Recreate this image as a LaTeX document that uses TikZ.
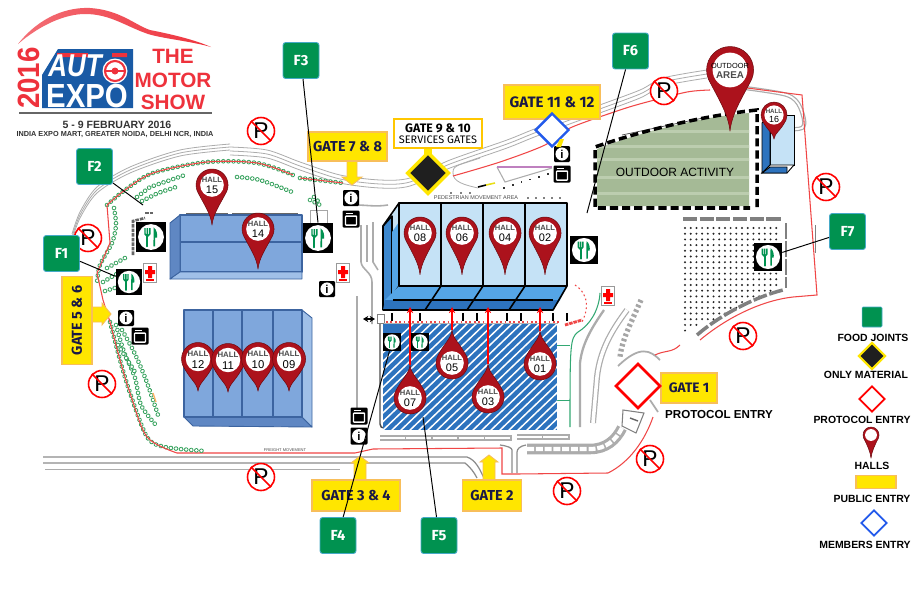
\documentclass[tikz,border=0pt]{standalone}
\usepackage{fontspec}
\setmainfont{Liberation Sans}
\newfontfamily\gatefont{Fira Sans}
\usetikzlibrary{shapes.geometric,arrows.meta}
\definecolor{foodgreen}{RGB}{0,146,80}
\definecolor{foodedge}{RGB}{70,170,200}
\definecolor{gateyellow}{RGB}{255,230,0}
\definecolor{gateedge}{RGB}{248,190,90}
\definecolor{gatetext}{RGB}{25,25,70}
\definecolor{pinred}{RGB}{172,18,28}
\definecolor{pindark}{RGB}{110,10,15}
\definecolor{logored}{RGB}{238,50,60}
\definecolor{logoblue}{RGB}{25,90,165}
\definecolor{bluelight}{RGB}{197,226,246}
\definecolor{bluemid}{RGB}{60,135,205}
\definecolor{bluesky}{RGB}{85,165,230}
\definecolor{bluedeep}{RGB}{45,115,190}
\definecolor{slate}{RGB}{127,167,220}
\definecolor{slatedark}{RGB}{95,135,195}
\definecolor{slateedge}{RGB}{60,100,160}
\definecolor{slatelight}{RGB}{160,192,232}
\definecolor{grassgreen}{RGB}{165,186,150}
\definecolor{grasslight}{RGB}{188,205,175}
\definecolor{treegreen}{RGB}{50,160,90}
\definecolor{roadgray}{RGB}{172,172,172}
\definecolor{routered}{RGB}{240,70,70}
\definecolor{memberblue}{RGB}{35,90,235}
\newcommand\fz[1]{\fontsize{#1}{#1}\selectfont}
\tikzset{
  fbox/.style={fill=foodgreen,draw=foodedge,line width=.5pt,rounded corners=1.5pt,minimum width=.72cm,minimum height=.72cm,inner sep=0pt,text=white,font=\gatefont\bfseries\fz{8.3}},
  leader/.style={draw=black,line width=.55pt},
  gatebox/.style={fill=gateyellow,draw=gateedge,line width=.6pt,inner sep=0pt,text=gatetext,font=\gatefont\bfseries\fz{8.2}},
  gatearrow/.style={fill=gateyellow,draw=gateedge,line width=.5pt},
  road/.style={draw=roadgray,line width=.45pt},
  roadheavy/.style={draw=black!45,line width=.7pt},
  route/.style={draw=routered,line width=.6pt},
  hallpanel/.style={fill=bluelight,draw=black,line width=1.1pt,line join=round},
  halldark/.style={draw=black,line width=.9pt,line join=round},
  slateface/.style={draw=slateedge,line width=.5pt,line join=round},
  diam/.style={diamond,aspect=1,inner sep=0pt,fill=white},
  legendtext/.style={font=\bfseries\fz{5.95},text=black,inner sep=0pt},
  treerow/.style={draw=treegreen,line width=2.6pt,line cap=round,dash pattern=on 0.01pt off 2.9pt,postaction={draw=white,line width=1.7pt}},
  nopark/.style={circle,draw=red,fill=white,line width=.9pt,minimum size=.54cm,inner sep=0pt,font=\fz{13}},
  iconbox/.style={fill=black,rounded corners=.6pt,inner sep=0pt},
  hallpoint/.style={draw=red,line width=.6pt,-{Stealth[length=3.5pt,width=3.5pt]}},
  pintext/.style={inner sep=0pt},
}
% pin: name, cx, cy, R, direction (1 down, -1 up), tip distance in R
\newcommand\pinbody[6]{%
  \begin{scope}[shift={(#2,#3)},x=#4*0.02cm,y=#5*#4*-0.02cm]
    \filldraw[fill=pinred,draw=pindark,line width=.3pt,line join=round] (0,#6) .. controls (0.08,#6*0.72) and (.45,1.3) .. (.92,.4)
      arc[start angle=23.5,end angle=-203.5,radius=1]
      .. controls (-.45,1.3) and (-.08,#6*0.72) .. (0,#6) -- cycle;
    \fill[white] (0,0) circle (.74);
    \coordinate (#1tip) at (0,#6);
  \end{scope}}
\newcommand\hallpin[7]{% name cx cy R dir d number
  \pinbody{#1}{#2}{#3}{#4}{#5}{#6}
  \pgfmathsetmacro\hallfa{#4*0.27}
  \pgfmathsetmacro\hallfb{#4*0.39}
  \node[pintext,text=black!70,font=\bfseries\fz{\hallfa}] (#1) at (#2,#3-#4*0.3) {HALL};
  \node[pintext,text=black,font=\fz{\hallfb}] (#1num) at (#2,#3+#4*0.32) {#7};}
\newcommand\foodicon[4]{% name x y size
  \node[fill=black,inner sep=0pt,minimum size=#4*0.02cm] (#1) at (#2,#3) {};
  \begin{scope}[shift={(#2,#3)},x=#4*0.02cm,y=#4*-0.02cm]
    \fill[white] (0,0) circle (.43);
    \draw[foodgreen,line width=#4*0.035pt,line cap=round] (-.12,-.02) -- (-.12,.31);
    \draw[foodgreen,line width=#4*0.028pt,line join=round] (-.2,-.3) -- (-.2,-.1) -- (-.12,-.02) -- (-.04,-.1) -- (-.04,-.3) (-.12,-.3) -- (-.12,-.02);
    \fill[foodgreen] (.09,-.32) .. controls (.2,-.25) and (.22,-.05) .. (.2,.02) -- (.14,.02) -- (.14,.31) -- (.08,.31) -- cycle;
  \end{scope}}
\newcommand\infoicon[4]{% name x y size
  \node[iconbox,minimum size=#4*0.02cm] (#1) at (#2,#3) {};
  \fill[white] (#2,#3) circle ({#4*0.41});
  \node[inner sep=0pt,font=\bfseries\fz{6.5}] at (#2,#3) {i};}
\newcommand\ovenicon[4]{% name x y size
  \node[iconbox,minimum size=#4*0.02cm] (#1) at (#2,#3) {};
  \begin{scope}[shift={(#2,#3)},x=#4*0.02cm,y=#4*-0.02cm]
    \draw[white,line width=#4*0.045pt,rounded corners=.3pt] (-.32,-.17) rectangle (.32,.36);
    \draw[white,line width=#4*0.04pt] (-.32,-.32) -- (.1,-.32);
  \end{scope}}
\newcommand\crossicon[3]{% name x y
  \node[fill=white,draw=black!40,line width=.3pt,minimum width=.27cm,minimum height=.38cm,inner sep=0pt] (#1) at (#2,#3) {};
  \fill[red] (#2-5,#3-3) rectangle (#2+5,#3+1) (#2-2,#3-7) rectangle (#2+2,#3+5);
  \draw[red,line width=.7pt] (#2-4,#3+7) -- (#2+4,#3+7);}
\newcommand\noparking[3]{% name x y
  \node[nopark] (#1) at (#2,#3) {P};
  \draw[red,line width=.9pt] (#1.135) -- (#1.-45);}
\begin{document}
\begin{tikzpicture}[x=0.02cm,y=-0.02cm]
\useasboundingbox (0,0) rectangle (912,592);
\fill[white] (0,0) rectangle (912,592);

% ---------- logo
\shade[left color=logored!70!white,middle color=logored!45!white,right color=logored] (18,44) .. controls (40,16) and (68,7) .. (90,8) .. controls (120,10) and (135,25) .. (150,30) .. controls (175,35) and (195,40) .. (211,47) .. controls (190,41) and (165,39) .. (148,34) .. controls (125,26) and (110,14) .. (85,14) .. controls (65,14) and (40,25) .. (18,44) -- cycle;
\fill[logoblue] (58,49) -- (42,75) -- (42,108) -- (133,108) -- (133,49) -- cycle;
\fill[logored] (57,53) rectangle (88,57) (112,53) rectangle (127,57);
\node[inner sep=0pt,rotate=90,xscale=.9,transform shape,text=logored,font=\bfseries\fz{17.5}] (logoyear) at (29,78) {2016};
\node[inner sep=0pt,xscale=.82,transform shape,text=white,font=\bfseries\itshape\fz{18}] (logoauto) at (75,66) {AUT};
\fill[white] (115,71) circle (12.5);
\draw[logored,line width=1.2pt] (115,71) circle (10);
\fill[logored] (115,71) circle (3.5);
\draw[logored,line width=.9pt] (105,71) -- (125,71);
\node[inner sep=0pt,xscale=.88,transform shape,text=white,font=\bfseries\fz{19}] (logoexpo) at (87,96) {EXPO};
\node[inner sep=0pt,text=logored,font=\bfseries\fz{11.8}] (logothe) at (173,56) {THE};
\node[inner sep=0pt,text=logored,font=\bfseries\fz{11.8}] (logomotor) at (173,80) {MOTOR};
\node[inner sep=0pt,text=logored,font=\bfseries\fz{11.8}] (logoshow) at (173,102) {SHOW};
\draw[black!60,line width=.8pt] (19,113) -- (212,113);
\node[inner sep=0pt,text=black!80,font=\bfseries\fz{6}] (logodate) at (117,125) {5 - 9 FEBRUARY 2016};
\node[inner sep=0pt,text=black!80,font=\bfseries\fz{4.15}] (logoplace) at (115,135) {INDIA EXPO MART, GREATER NOIDA, DELHI NCR, INDIA};

% ---------- roads
\foreach \d in {0,-3,-6} \draw[road,shift={(0,\d)}] plot[smooth] coordinates {(72,240) (80,218) (97,193) (130,173) (180,156) (230,150)};
\foreach \d in {0,4,8} \draw[road,shift={(0,\d)}] plot[smooth] coordinates {(230,147) (267,150) (300,162) (340,175) (380,180) (410,178) (450,160) (507,140) (537,128) (597,106) (640,90) (663,78) (707,70)};
\draw[road,line width=.7pt,double=white,double distance=1pt] plot[smooth] coordinates {(745,88) (787,95) (800,107) (802,128) (763,128)};
\draw[road] (453,172) .. controls (453,165) and (460,165) .. (480,158);
\draw[road] (453,172) .. controls (452,182) and (465,185) .. (478,188);
\draw[road,line width=.6pt] (497,167) -- (505,182) -- (552,168);
\draw[violet!50,line width=.6pt] (497,167) -- (552,167);
\draw[black!70,line width=.4pt] (622,135) -- (703,118);
% bottom roads
\draw[roadheavy] (43,457) -- (467,457) .. controls (476,460) and (480,470) .. (484,478);
\draw[roadheavy] (43,463) -- (465,463) .. controls (470,467) and (474,472) .. (477,478);
\draw[road] (45,469) -- (340,469);
\draw[roadheavy] (512,473) -- (512,450) .. controls (512,448) and (508,446) .. (500,445);
\draw[roadheavy] (517,473) -- (517,452) .. controls (517,449) and (520,446) .. (526,445);
\draw[road,line width=3pt] (380,438) -- (512,438) (517,437) -- (570,437);
\draw[white,line width=1.6pt,dash pattern=on 14pt off 1pt] (380,438) -- (512,438) (517,437) -- (570,437);
% left verticals
\draw[road,line width=1.3pt] (357,296) -- (357,423);
\draw[road,line width=.9pt] (361,225) -- (361,262) .. controls (362,270) and (372,272) .. (372,282) -- (372,324);
\draw[road,line width=.9pt] (367,225) -- (367,262);
\draw[road,line width=.9pt] (373,222) -- (373,262) -- (378,270);
\draw[road,line width=.9pt] (355,205) .. controls (368,205) and (375,207) .. (388,205);
\draw[black!70,line width=.8pt] (380,324) -- (380,424) .. controls (380,427) and (382,428) .. (384,428);
\draw[black!50,fill=white,line width=.4pt] (377,314) rectangle (384,323);
\draw[black,line width=.9pt,{Stealth[length=3pt,width=3.5pt]}-{Stealth[length=3pt,width=3.5pt]}] (363,319) -- (375,319);
% right entrance drive
\draw[road,line width=1.3pt] (580,427) -- (580,363) .. controls (582,345) and (590,330) .. (604,310);
\draw[foodgreen!80,line width=.6pt] (600,293) .. controls (599,310) and (590,325) .. (578,332) .. controls (570,338) and (570,345) .. (570,427);
\draw[foodgreen!80,line width=.5pt] (557,345) -- (570,345) (557,400) -- (570,400);
\draw[road,line width=.7pt,double=white,double distance=2pt] (593,423) -- (597,377) .. controls (600,350) and (612,330) .. (627,310);
\draw[black!35,line width=3pt,dash pattern=on 1.5pt off 1.5pt] (641,300) .. controls (630,325) and (622,340) .. (620,357);
\draw[road,line width=6pt] (527,449) -- (590,449) .. controls (606,449) and (616,440) .. (622,428);
\draw[white,line width=2.4pt,dash pattern=on 4pt off 1pt] (527,449) -- (590,449) .. controls (606,449) and (616,440) .. (622,428);
\draw[black!50,fill=white,line width=.6pt] (623,410) -- (644,413) -- (636,433) -- (622,426) -- cycle;
\draw[black!60,line width=.8pt] (630,418) -- (638,421);
\draw[road,line width=1pt] (618,366) .. controls (640,345) and (650,350) .. (660,360);
\draw[road,line width=1pt] (650,400) -- (658,412);

% ---------- red route
\draw[route] plot[smooth] coordinates {(453,176) (500,162) (545,145) (570,128) (620,110) (647,102) (687,92) (710,90)};
\draw[route] (747,88) -- (802,95) -- (817,295) -- (793,297) .. controls (765,300) and (730,315) .. (700,340);
\draw[route] (653,417) .. controls (645,440) and (630,462) .. (608,473) -- (517,474) -- (502,474) -- (502,448) -- (373,449) -- (355,453) -- (205,453) (177,453) -- (205,453);
\draw[route] (655,355) .. controls (665,350) and (672,353) .. (680,345);
\draw[routered,line width=.8pt,dash pattern=on 1pt off 1.5pt] (386,322) -- (560,322);
\draw[routered,line width=.6pt,dash pattern=on 1pt off 1.5pt] (575,285) .. controls (590,295) and (588,310) .. (582,322);
\draw[routered,line width=1.6pt,dash pattern=on 2pt off .5pt] (565,325) -- (582,320);
\foreach \x in {392,420,463,477,507,521,553,567} \fill[black] (\x-1,313) rectangle (\x+1,321);
\draw[gray!60,line width=.4pt] (384,323) -- (558,323);

% ---------- trees
\draw[treerow] plot[smooth] coordinates {(107,205) (125,190) (153,173) (207,162) (257,163) (293,175)};
\draw[treerow] (300,178) -- (343,183);
\draw[treerow] plot[smooth] coordinates {(114,208) (116,225) (112,243) (100,265) (97,283)};
\draw[treerow] plot[smooth] coordinates {(110,322) (120,360) (130,393) (147,437) (165,447) (205,451)};
\draw[treerow] (107,268) -- (125,258);
\draw[treerow] (103,282) -- (120,272);
\draw[treerow] (105,291) -- (118,287);
\draw[treerow] plot[smooth] coordinates {(116,325) (124,352) (135,378) (141,405) (155,424)};
\draw[treerow] plot[smooth] coordinates {(122,330) (134,352) (146,380) (158,415)};
\draw[treerow] (118,345) -- (135,372);
\draw[treerow] (137,197) -- (150,187) -- (185,175);
\draw[treerow] (142,201) -- (158,193) -- (176,187);
\draw[treerow] plot[smooth] coordinates {(237,177) (260,180) (292,192)};
\draw[treerow] (310,200) -- (322,206);
\draw[treerow] (314,197) -- (320,203);
\draw[route] plot[smooth] coordinates {(107,205) (125,190) (153,173) (207,162) (257,163) (293,175)};
\draw[route] (300,178) -- (343,183);
\draw[route] (107,205) -- (110,243) -- (97,273) -- (103,300) -- (110,322);
\draw[route] plot[smooth] coordinates {(110,322) (120,360) (130,393) (147,437) (177,453)};
\draw[gray!70,line width=.4pt] (310,223) -- (310,210) -- (327,210) -- (327,223);

% ---------- outdoor activity
\begin{scope}
\clip (597,149) .. controls (630,136) and (690,118) .. (749,113) -- (749,206) -- (597,206) -- cycle;
\fill[grassgreen] (590,105) rectangle (755,210);
\foreach \y in {130,145,158,176,192} \fill[grasslight] (590,\y) rectangle (755,\y+2.5);
\end{scope}
\node[inner sep=0pt,font=\fz{6.8},text=black] (outdoor) at (675,172) {OUTDOOR ACTIVITY};
\draw[black,line width=2pt,dash pattern=on 4.6pt off 2.3pt] (757,207) -- (757,110) .. controls (710,115) and (650,128) .. (595,147) -- (595,208) -- (750,208);

% ---------- parking lot
\foreach \i in {0,...,16} \foreach \j in {0,...,18} {
  \pgfmathsetmacro\dotx{685+5.7*\i}
  \pgfmathsetmacro\doty{228+5.7*\j}
  \pgfmathparse{\doty<(333-(\dotx-685)*.48)?1:0}
  \ifnum\pgfmathresult=1 \fill[black!85] (\dotx,\doty) circle (1.1); \fi
}
\draw[black!50,line width=2pt,dash pattern=on 8pt off 1.5pt] (683,219) -- (782,219);
\draw[black!50,line width=1.6pt,dash pattern=on 9pt off 1.2pt] (786,223) -- (786,288);
\draw[black!50,line width=2pt,dash pattern=on 8pt off 1.5pt] (697,335) .. controls (720,315) and (755,297) .. (783,290);
\draw[black!50,line width=.4pt] (815,225) -- (815,253);

% ---------- hall block 14/15
\fill[slate] (180,215) rectangle (302,272);
\draw[slateface,line width=.7pt] (180,215) rectangle (302,272);
\draw[slateedge,line width=.8pt] (180,242) -- (302,242);
\filldraw[slateface,fill=slatedark] (180,215) -- (170,223) -- (170,279) -- (180,272) -- cycle;
\filldraw[slateface,fill=slatelight] (180,272) -- (170,279) -- (302,279) -- (302,272) -- cycle;
\draw[black!60,line width=.7pt] (186,213.5) -- (228,213.5) (232,213.5) -- (298,213.5);

% ---------- hall block 09-12
\filldraw[slateface,fill=slatedark] (184,417) -- (193,426) -- (312,427) -- (302,417) -- cycle;
\filldraw[slateface,fill=slatelight] (302,310) -- (312,318) -- (312,427) -- (302,417) -- cycle;
\filldraw[slateface,fill=slate,line width=.7pt] (184,310) rectangle (302,417);
\draw[slateedge,line width=.8pt] (213,310) -- (213,417) (242,310) -- (242,417) (273,310) -- (273,417);

% ---------- halls 02-08
\fill[bluelight] (383,300) -- (399,286) -- (399,203) -- (383,226) -- cycle;
\filldraw[halldark,fill=bluemid] (383,226) -- (392,216) -- (392,300) -- (383,310) -- cycle;
\fill[bluesky] (392,232) -- (399,222) -- (399,286) -- (392,298) -- cycle;
\draw[halldark] (383,226) -- (399,203) (399,286) -- (383,310);
\fill[bluesky] (399,286) -- (567,286) -- (560,300) -- (385,300) -- cycle;
\fill[bluedeep] (385,300) -- (560,300) -- (553,310) -- (383,310) -- cycle;
\draw[halldark] (383,310) -- (553,310) -- (567,286);
\draw[black,line width=.7pt] (393,300) -- (553,300);
\draw[halldark] (441,286) -- (425,310) (483,286) -- (467,310) (525,286) -- (509,310);
\draw[hallpanel] (399,203) rectangle (567,286);
\draw[black,line width=1.1pt] (441,203) -- (441,286) (483,203) -- (483,286) (525,203) -- (525,286);

% ---------- hatched hall
\begin{scope}
\clip (383,324) rectangle (557,430);
\fill[bluedeep] (383,324) rectangle (557,430);
\foreach \s in {300,309,...,570} \draw[white,line width=.85pt] (\s,432) -- (\s+115,322);
\end{scope}

% ---------- hall 16
\filldraw[fill=bluelight,draw=black,line width=.5pt] (770,115) -- (794,115) -- (794,165) -- (770,165) -- cycle;
\filldraw[fill=white,draw=black,line width=.5pt] (794,165) -- (787,173) -- (762,173) -- (770,165) -- cycle;
\filldraw[fill=bluedeep,draw=black,line width=.5pt] (762,123) -- (770,115) -- (770,165) -- (762,173) -- cycle;
\filldraw[fill=bluedeep,draw=black,line width=.5pt] (762,173) -- (770,167) -- (787,167) -- (787,173) -- cycle;

% ---------- misc dots, labels
\foreach \x in {451,461,470} \fill[black] (\x,193) circle (.9);
\foreach \x in {528,536,...,566} \fill[black] (\x,198) circle (.9);
\foreach \i in {0,...,5} \fill[black!80] (503+8.8*\i,187-2.8*\i) rectangle +(1.8,1.8);
\draw[black,line width=.9pt] (478,187) -- (486,185);
\draw[yellow!90!black,line width=.9pt] (486,185) -- (495,183);
\node[inner sep=0pt,font=\fz{3.1},text=black!70] (pedestrian) at (476,198) {PEDESTRIAN MOVEMENT AREA};
\node[inner sep=0pt,font=\fz{2.3},text=black!70] (freight) at (285,450) {FREIGHT MOVEMENT};
\draw[black!60,line width=1.5pt,dash pattern=on 2pt off .6pt] (133,255) -- (133,221) -- (145,218);
\draw[black!60,line width=1.5pt,dash pattern=on 2pt off .6pt] (145,213) -- (153,213);
\draw[orange!60,line width=.8pt] (153,393) -- (156,402);

% ---------- icons
\foodicon{foodtwo}{151}{237}{30}
\foodicon{foodone}{129}{282}{26}
\foodicon{foodthree}{318}{238}{30}
\foodicon{foodsix}{584}{250}{28}
\foodicon{foodseven}{768}{257}{28}
\foodicon{foodfoura}{392}{342}{18}
\foodicon{foodfourb}{420}{342}{18}
\infoicon{infoa}{351}{198}{16}
\ovenicon{ovena}{351}{219}{17}
\infoicon{infob}{562}{154}{16}
\ovenicon{ovenb}{562}{174}{17}
\infoicon{infoc}{126}{318}{16}
\ovenicon{ovenc}{140}{336}{17}
\infoicon{infod}{327}{289}{16}
\ovenicon{ovend}{359}{416}{17}
\infoicon{infoe}{359}{436}{17}
\crossicon{crossa}{150}{273}
\crossicon{crossb}{343}{273}
\crossicon{crossc}{608}{296}

% ---------- no parking signs
\noparking{npa}{261}{131}
\noparking{npb}{88}{238}
\noparking{npc}{102}{384}
\noparking{npd}{664}{91}
\noparking{npe}{826}{187}
\noparking{npf}{743}{336}
\noparking{npg}{650}{459}
\noparking{nph}{567}{491}
\noparking{npi}{261}{477}

% ---------- pins
\hallpin{hallviii}{420}{233}{16}{1}{2.6}{08}
\hallpin{hallvi}{462}{233}{16}{1}{2.6}{06}
\hallpin{halliv}{505}{233}{16}{1}{2.6}{04}
\hallpin{hallii}{545}{233}{16}{1}{2.6}{02}
\hallpin{hallxv}{212}{185}{16}{1}{2.5}{15}
\hallpin{hallxiv}{258}{229}{16}{1}{2.5}{14}
\hallpin{hallxii}{198}{359}{16.5}{1}{1.95}{12}
\hallpin{hallxi}{228}{360}{16.5}{1}{1.95}{11}
\hallpin{hallx}{258}{359}{16.5}{1}{1.95}{10}
\hallpin{hallix}{289}{359}{16.5}{1}{1.95}{09}
\hallpin{hallxvi}{774}{115}{13}{1}{1.85}{16}
\coordinate (topvii) at (410,307);
\coordinate (topv) at (452,307);
\coordinate (topiii) at (488,307);
\coordinate (topi) at (540,307);
\hallpin{hallvii}{410}{398}{16}{-1}{2.05}{07}
\hallpin{hallv}{452}{363}{16}{-1}{2.05}{05}
\hallpin{halliii}{488}{397}{16}{-1}{2.05}{03}
\hallpin{halli}{540}{364}{16}{-1}{2.05}{01}
\draw[hallpoint] (hallviitip) -- (topvii);
\draw[hallpoint] (hallvtip) -- (topv);
\draw[hallpoint] (halliiitip) -- (topiii);
\draw[hallpoint] (hallitip) -- (topi);
\pinbody{outdoorpin}{730}{70}{23.5}{1}{2.6}
\node[pintext,font=\fz{4.2},text=black] (outdoorword) at (730,66) {OUTDOOR};
\node[pintext,font=\bfseries\fz{5.6},text=black!70] (areaword) at (730,75) {AREA};

% ---------- gates
\draw[gatearrow] (347,161) -- (347,177) -- (342,177) -- (352,185) -- (362,177) -- (357,177) -- (357,161) -- cycle;
\node[gatebox,minimum width=1.58cm,minimum height=.58cm] (gateviii) at (347.5,146.5) {GATE 7 \& 8};
\draw[gatearrow] (83,307) -- (102,307) -- (102,303) -- (111,314) -- (102,325) -- (102,322) -- (83,322) -- cycle;
\node[gatebox,rotate=90,minimum width=1.76cm,minimum height=.6cm] (gatevi) at (77,320.5) {GATE 5 \& 6};
\draw[gatearrow] (483,482) -- (483,462) -- (480,462) -- (489,455) -- (498,462) -- (495,462) -- (495,482) -- cycle;
\node[gatebox,minimum width=1.18cm,minimum height=.62cm] (gateii) at (492,495.5) {GATE 2};
\draw[gatearrow] (354,482) -- (354,463) -- (351,463) -- (360,456) -- (369,463) -- (366,463) -- (366,482) -- cycle;
\node[gatebox,minimum width=1.76cm,minimum height=.62cm] (gateiv) at (356,495.5) {GATE 3 \& 4};
\node[gatebox,font=\gatefont\bfseries\fz{7.8},minimum width=1.12cm,minimum height=.6cm] (gatei) at (689,388) {GATE 1};
\node[diam,draw=red,line width=1.5pt,minimum width=.9cm,minimum height=.9cm] (protocol) at (638,386) {};
\node[inner sep=0pt,font=\bfseries\fz{6.6}] (protocoltext) at (719,414) {PROTOCOL ENTRY};
\node[gatebox,font=\gatefont\bfseries\fz{8.6},minimum width=1.92cm,minimum height=.68cm] (gatexii) at (552,102) {GATE 11 \& 12};
\node[diam,draw=memberblue,line width=1.4pt,minimum width=.68cm,minimum height=.68cm] (members) at (552,130) {};
\fill[gateyellow] (556,147) -- (560,139) -- (564,139) -- (561,147) -- cycle;
\node[gatebox,fill=white,draw=gateyellow!70!orange,line width=.9pt,minimum width=1.76cm,minimum height=.58cm,align=center,text=black,font=\gatefont\bfseries\fz{7}] (gatex) at (438,133.5) {GATE 9 \& 10\\[-1pt]{\mdseries\fz{6.2}SERVICES GATES}};
\draw[gateyellow,line width=5pt] (428,149) -- (428,155);
\node[diam,fill=black!88,draw=gateyellow,line width=2pt,minimum width=.84cm,minimum height=.84cm] (material) at (428,173) {};

% ---------- food joint boxes and leaders
\node[fbox] (ftwo) at (94.5,166.5) {F2};
\node[fbox] (fone) at (61.5,253.5) {F1};
\node[fbox] (fthree) at (301,60.5) {F3};
\node[fbox] (fsix) at (630.5,51) {F6};
\node[fbox] (fseven) at (847.5,231.5) {F7};
\node[fbox] (ffour) at (338,535.5) {F4};
\node[fbox] (ffive) at (439,535.5) {F5};
\coordinate (ftwoend) at (143,205);
\coordinate (fsixend) at (587,213);
\coordinate (ffiveend) at (423,417);
\draw[leader] (113,183) -- (ftwoend);
\draw[leader] (fone) -- (foodone);
\draw[leader] (303,79) -- (foodthree.north);
\draw[leader] (fsix) -- (fsixend);
\draw[leader] (fseven) -- (foodseven);
\draw[leader] (ffour) -- (foodfoura);
\draw[leader] (ffive) -- (ffiveend);

% ---------- legend
\node[fill=foodgreen,draw=foodedge,line width=.3pt,rounded corners=.6pt,minimum size=.4cm,inner sep=0pt] (lgfood) at (872,317) {};
\node[legendtext] (lgfoodt) at (873,338) {FOOD JOINTS};
\node[diam,fill=black!88,draw=gateyellow,line width=1.2pt,minimum width=.54cm,minimum height=.54cm] (lgmat) at (872,356) {};
\node[legendtext] (lgmatt) at (866,375) {ONLY MATERIAL};
\node[diam,draw=red,line width=1pt,minimum width=.52cm,minimum height=.52cm] (lgprot) at (872,399) {};
\node[legendtext] (lgprott) at (862,420) {PROTOCOL ENTRY};
\pinbody{lghall}{871}{435}{8}{1}{2.9}
\node[legendtext] (lghallt) at (872,466) {HALLS};
\node[gatebox,minimum width=.8cm,minimum height=.25cm] (lgpub) at (876,482) {};
\node[legendtext] (lgpubt) at (872,499) {PUBLIC ENTRY};
\node[diam,draw=memberblue,line width=1pt,minimum width=.52cm,minimum height=.52cm] (lgmem) at (874,523) {};
\node[legendtext] (lgmemt) at (865,545) {MEMBERS ENTRY};
\end{tikzpicture}
\end{document}
